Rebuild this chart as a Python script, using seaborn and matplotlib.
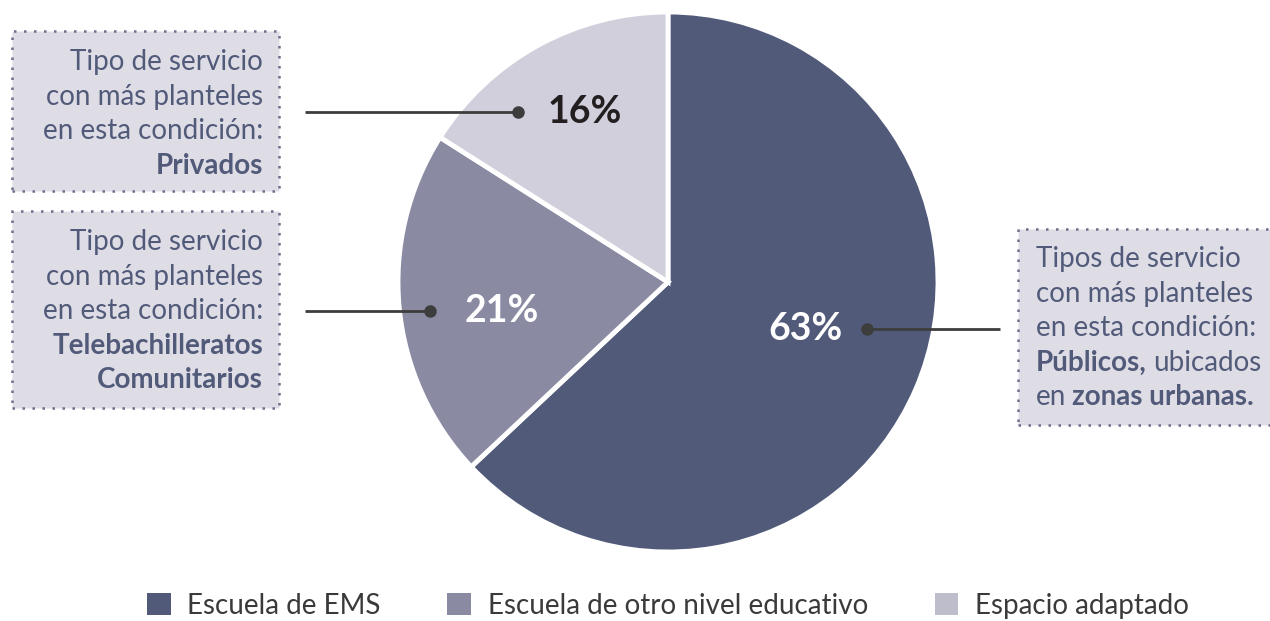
import matplotlib
matplotlib.use("Agg")
import matplotlib.pyplot as plt
import seaborn as sns
from matplotlib.patches import Rectangle, Patch

categories = ["Escuela de EMS", "Escuela de otro nivel educativo", "Espacio adaptado"]
values = [63, 21, 16]
value_labels = ["63%", "21%", "16%"]
colors = ["#525a7a", "#8a8ba3", "#d0cfdb"]
legend_colors = ["#525a7a", "#8a8ba3", "#bebdcc"]

sns.set_theme(style="white")
plt.rcParams["font.family"] = ["Lato", "DejaVu Sans"]

W, H = 1270, 621
fig = plt.figure(figsize=(12.7, 6.21), dpi=100)
ax = fig.add_axes([0, 0, 1, 1])

def Y(y):
    return H - y

cx, cy, r = 668, 282, 270
wedges, _ = ax.pie(values, colors=colors, startangle=90, counterclock=False,
                   center=(cx, Y(cy)), radius=r, frame=True,
                   wedgeprops=dict(edgecolor="white", linewidth=3.5))
ax.set_xlim(0, W)
ax.set_ylim(0, H)
ax.set_aspect("equal")
ax.axis("off")

# percentage labels
lab_pos = [(806, 329), (502, 311), (585, 112)]
lab_col = ["white", "white", "#231f20"]
for (x, y), t, c in zip(lab_pos, value_labels, lab_col):
    ax.text(x, Y(y), t, ha="center", va="center", fontsize=27, fontweight="bold", color=c)

# leader lines
line_col = "#3d3d3d"
leaders = [((867, 329), (1000, 329)), ((430, 311), (305, 311)), ((518, 112), (305, 112))]
for (x0, y0), (x1, y1) in leaders:
    ax.plot([x0, x1], [Y(y0), Y(y1)], color=line_col, lw=2, solid_capstyle="butt")
    ax.plot(x0, Y(y0), "o", color=line_col, ms=8)

# boxes
box_fill = "#dedde6"
box_edge = "#6c6f8c"
boxes = [(12, 31, 279, 191), (12, 211, 279, 408), (1018, 229, 1275, 425)]
for x0, y0, x1, y1 in boxes:
    ax.add_patch(Rectangle((x0, Y(y1)), x1 - x0, y1 - y0, facecolor=box_fill,
                           edgecolor=box_edge, linestyle=(0, (1, 3)), linewidth=1.8,
                           clip_on=False))

txt_col = "#525a7a"
fs = 20
lh = 34.6
# box 1
lines1 = [("Tipo de servicio", "normal"), ("con más planteles", "normal"),
          ("en esta condición:", "normal"), ("Privados", "bold")]
for i, (t, w) in enumerate(lines1):
    ax.text(263, Y(62 + i * lh), t, ha="right", va="center", fontsize=fs, fontweight=w, color=txt_col)
# box 2
lines2 = [("Tipo de servicio", "normal"), ("con más planteles", "normal"),
          ("en esta condición:", "normal"), ("Telebachilleratos", "bold"), ("Comunitarios", "bold")]
for i, (t, w) in enumerate(lines2):
    ax.text(263, Y(242 + i * lh), t, ha="right", va="center", fontsize=fs, fontweight=w, color=txt_col)
# box 3
lines3 = ["Tipos de servicio", "con más planteles", "en esta condición:"]
for i, t in enumerate(lines3):
    ax.text(1036, Y(259 + i * lh), t, ha="left", va="center", fontsize=fs, color=txt_col)
t1 = ax.text(1036, Y(259 + 3 * lh), "Públicos,", ha="left", va="center", fontsize=fs,
             fontweight="bold", color=txt_col)
fig.canvas.draw()
bb = t1.get_window_extent()
ax.text(bb.x1 + 6, Y(259 + 3 * lh), "ubicados", ha="left", va="center", fontsize=fs, color=txt_col)
t2 = ax.text(1036, Y(259 + 4 * lh), "en", ha="left", va="center", fontsize=fs, color=txt_col)
fig.canvas.draw()
bb = t2.get_window_extent()
ax.text(bb.x1 + 6, Y(259 + 4 * lh), "zonas urbanas.", ha="left", va="center", fontsize=fs,
        fontweight="bold", color=txt_col)

# legend
handles = [Patch(facecolor=c, edgecolor="none") for c in legend_colors]
fig.legend(handles, categories, loc="center", bbox_to_anchor=(668 / W, 1 - 606 / H),
           ncol=3, frameon=False, fontsize=20, handlelength=0.85, handleheight=0.85,
           handletextpad=0.6, columnspacing=2.4, labelcolor="#3a3a3a")

fig.savefig("out.png", dpi=100)
